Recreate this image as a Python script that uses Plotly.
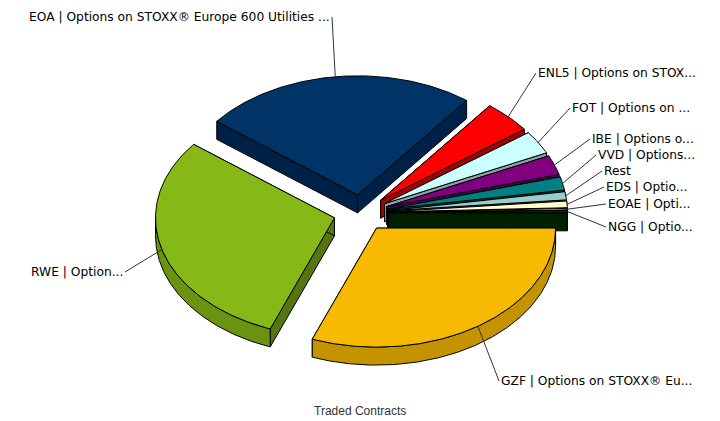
import math
import plotly.graph_objects as go

# Data (share of traded contracts, %), clockwise from GZF
categories = ["GZF | Options on STOXX® Eu...", "RWE | Option...", "EOA | Options on STOXX® Europe 600 Utilities ...",
              "ENL5 | Options on STOX...", "FOT | Options on ...", "IBE | Options o...", "VVD | Options...",
              "Rest", "EDS | Optio...", "EOAE | Opti...", "NGG | Optio..."]
values = [30.8, 29.7, 24.8, 4.4, 3.15, 2.65, 1.8, 1.1, 0.9, 0.22, 0.33]
top_colors = ["#F8BA00", "#86B817", "#003366", "#FF0000", "#CCFFFF", "#800080", "#008080",
              "#99CCCC", "#FFFFCC", "#FFCC99", "#003300"]
radial_colors = ["#A07800", "#567510", "#002147", "#A80000", "#85A6A6", "#500050", "#005050",
                 "#648585", "#A6A685", "#A68563", "#002000"]
arc_colors = ["#C49300", "#6A9312", "#002850", "#CC0000", "#A3CCCC", "#660066", "#006666",
              "#7AA3A3", "#CCCCA3", "#CCA37A", "#002800"]
# label anchor and text alignment, in plot units
label_x = [499, 125, 332, 536, 570, 590, 596, 602, 604, 606, 606]
label_y = [381, 272, 17, 73, 108, 139, 155, 171, 187, 204, 227]
label_side = ["left", "right", "right", "left", "left", "left", "left", "left", "left", "left", "left"]
draw_order = [1, 2, 3, 4, 5, 6, 7, 8, 9, 10, 0]

CX, CY = 361.0, 213.0
RX, TILT, DEPTH, PULL = 179.0, 0.665, 18.0, 27.5

total = sum(values)
spans = []
end = 360.0
for v in values:
    start = end - v / total * 360.0
    spans.append((start, end))
    end = start


def project(apex, r, deg, drop=0.0):
    a = math.radians(deg)
    return apex[0] + r * math.cos(a), apex[1] - r * TILT * math.sin(a) + drop


def arc_angles(a, b):
    n = max(2, int(abs(b - a) * 1.5))
    return [a + (b - a) * i / n for i in range(n + 1)]


fig = go.Figure()


def poly(pts, color):
    fig.add_trace(go.Scatter(x=[p[0] for p in pts] + [pts[0][0]], y=[p[1] for p in pts] + [pts[0][1]],
                             mode="lines", fill="toself", fillcolor=color,
                             line=dict(color="#000000", width=1), hoverinfo="skip", showlegend=False))


apexes = []
for s, e in spans:
    m = math.radians((s + e) / 2)
    apexes.append((CX + PULL * math.cos(m), CY - PULL * TILT * math.sin(m)))

for i in draw_order:
    s, e = spans[i]
    ap = apexes[i]
    # radial walls
    for ang in (e, s):
        p = project(ap, RX, ang)
        poly([ap, p, (p[0], p[1] + DEPTH), (ap[0], ap[1] + DEPTH)], radial_colors[i])
    # outer wall (only the part facing the viewer)
    lo, hi = max(s, 180.0), min(e, 360.0)
    if hi > lo:
        angs = arc_angles(lo, hi)
        poly([project(ap, RX, a) for a in angs] + [project(ap, RX, a, DEPTH) for a in reversed(angs)], arc_colors[i])
    # top face
    poly([ap] + [project(ap, RX, a) for a in arc_angles(s, e)], top_colors[i])

# leader lines and labels
annotations = []
for i, name in enumerate(categories):
    s, e = spans[i]
    p = project(apexes[i], RX, (s + e) / 2)
    end_x = label_x[i] if label_side[i] == "left" else label_x[i]
    fig.add_trace(go.Scatter(x=[p[0], end_x], y=[p[1], label_y[i]], mode="lines",
                             line=dict(color="#333333", width=1), hoverinfo="skip", showlegend=False))
    annotations.append(dict(x=label_x[i], y=label_y[i], text=name, showarrow=False,
                            xanchor=label_side[i], yanchor="middle", xref="x", yref="y",
                            font=dict(family="DejaVu Sans", size=12.25, color="#000000")))

annotations.append(dict(x=360, y=411, text="Traded Contracts", showarrow=False, xref="x", yref="y",
                        font=dict(family="Liberation Sans", size=12, color="#333333")))

fig.update_layout(width=720, height=421, autosize=False, margin=dict(l=0, r=0, t=0, b=0),
                  paper_bgcolor="#FFFFFF", plot_bgcolor="#FFFFFF", annotations=annotations,
                  xaxis=dict(range=[0, 720], visible=False, fixedrange=True),
                  yaxis=dict(range=[421, 0], visible=False, fixedrange=True))
fig.write_html("out.html", config=dict(displayModeBar=False),
               post_script="document.body.style.margin='0';")
